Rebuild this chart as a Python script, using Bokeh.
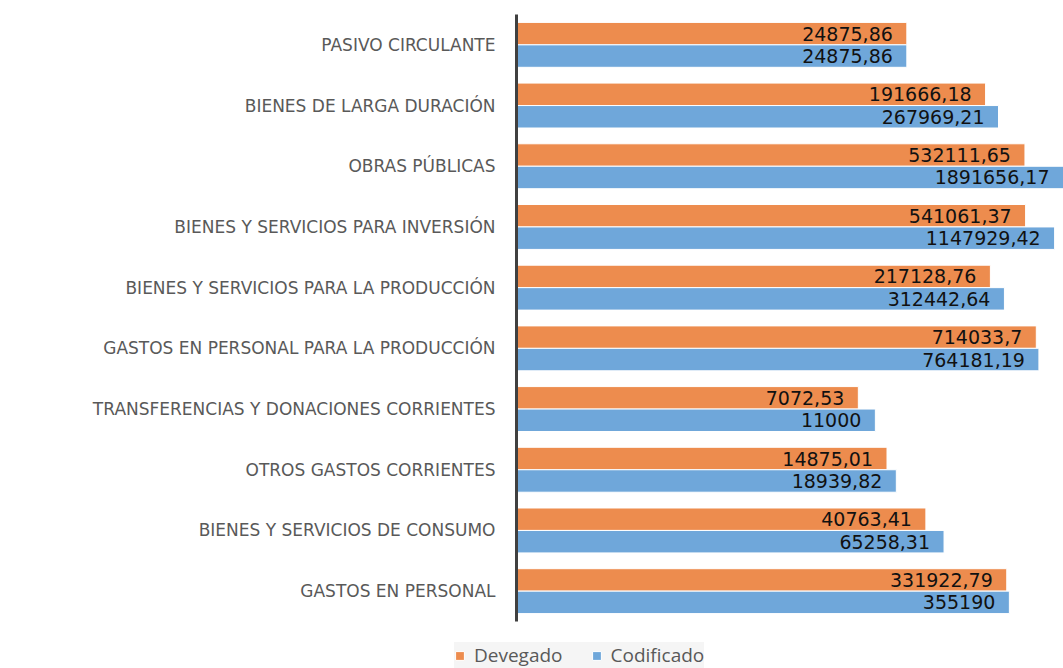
from bokeh.plotting import figure
from bokeh.models import ColumnDataSource, Range1d, Legend, LegendItem
from bokeh.core.properties import value
from bokeh.embed import file_html
from bokeh.resources import INLINE

categories = [
    "PASIVO CIRCULANTE",
    "BIENES DE LARGA DURACIÓN",
    "OBRAS PÚBLICAS",
    "BIENES Y SERVICIOS PARA INVERSIÓN",
    "BIENES Y SERVICIOS PARA LA PRODUCCIÓN",
    "GASTOS EN PERSONAL PARA LA PRODUCCIÓN",
    "TRANSFERENCIAS Y DONACIONES CORRIENTES",
    "OTROS GASTOS CORRIENTES",
    "BIENES Y SERVICIOS DE CONSUMO",
    "GASTOS EN PERSONAL",
]
devegado = [24875.86, 191666.18, 532111.65, 541061.37, 217128.76,
            714033.7, 7072.53, 14875.01, 40763.41, 331922.79]
codificado = [24875.86, 267969.21, 1891656.17, 1147929.42, 312442.64,
              764181.19, 11000, 18939.82, 65258.31, 355190]
series_names = ["Devegado", "Codificado"]

W, H = 1063, 668
AXIS_PX = 516          # pixel where the value axis sits
TOP_PX, BOTTOM_PX = 14, 621
LOG_MAX = 6.16         # right edge of the visible value range (log10)
XMIN = 1
XMAX = 10 ** LOG_MAX
x_start = 10 ** (-LOG_MAX * AXIS_PX / (W - AXIS_PX))

N = len(categories)
unit = (BOTTOM_PX - TOP_PX) / N
y_range = Range1d(-(H - BOTTOM_PX) / unit, N + TOP_PX / unit)

def fmt(v):
    if float(v) == int(v):
        return str(int(v))
    return str(v).replace(".", ",")

ORANGE = "#ED8C4E"
BLUE = "#6FA7DA"
OFF = 0.185
BAR_H = 0.37

ypos = [N - i - 0.5 for i in range(N)]
src = ColumnDataSource(dict(
    cat=categories,
    y=ypos,
    y_dev=[y + OFF for y in ypos],
    y_cod=[y - OFF for y in ypos],
    dev=devegado,
    cod=codificado,
    left=[XMIN] * N,
    dev_lx=[min(v, XMAX) for v in devegado],
    cod_lx=[min(v, XMAX) for v in codificado],
    dev_lbl=[fmt(v) for v in devegado],
    cod_lbl=[fmt(v) for v in codificado],
))

p = figure(width=W, height=H, output_backend="svg", toolbar_location=None,
           x_axis_type="log", x_range=Range1d(x_start, XMAX), y_range=y_range)
p.min_border = 0
p.outline_line_color = None
p.xgrid.visible = False
p.ygrid.visible = False
p.xaxis.visible = False
p.yaxis.visible = False

r1 = p.hbar(y="y_dev", left="left", right="dev", height=BAR_H,
            source=src, fill_color=ORANGE, line_color="white", line_width=1)
r2 = p.hbar(y="y_cod", left="left", right="cod", height=BAR_H,
            source=src, fill_color=BLUE, line_color="white", line_width=1)

# value axis line
p.segment(x0=XMIN, x1=XMIN, y0=0, y1=N, line_color="#404040", line_width=3)

# category labels
p.text(x="left", y="y", text="cat", source=src, text_align="right",
       text_baseline="middle", x_offset=-21, text_font=value("DejaVu Sans"),
       text_font_size="17px", text_color="#595959")

# data labels
p.text(x="dev_lx", y="y_dev", text="dev_lbl", source=src,
       text_align="right", text_baseline="middle", x_offset=-14,
       text_font=value("DejaVu Sans"), text_font_size="19px", text_color="#111111")
p.text(x="cod_lx", y="y_cod", text="cod_lbl", source=src,
       text_align="right", text_baseline="middle", x_offset=-14,
       text_font=value("DejaVu Sans"), text_font_size="19px", text_color="#111111")

legend = Legend(items=[LegendItem(label=series_names[0], renderers=[r1]),
                       LegendItem(label=series_names[1], renderers=[r2])],
                orientation="horizontal", location=(454, 0))
legend.background_fill_color = "#F5F5F5"
legend.background_fill_alpha = 1
legend.border_line_color = None
legend.label_text_font = "Open Sans"
legend.label_text_font_size = "19px"
legend.label_text_color = "#595959"
legend.glyph_width = 11
legend.glyph_height = 11
legend.label_standoff = 9
legend.spacing = 28
legend.padding = 3
legend.margin = 0
p.add_layout(legend, "center")

open("out.html", "w").write(file_html(p, INLINE))
